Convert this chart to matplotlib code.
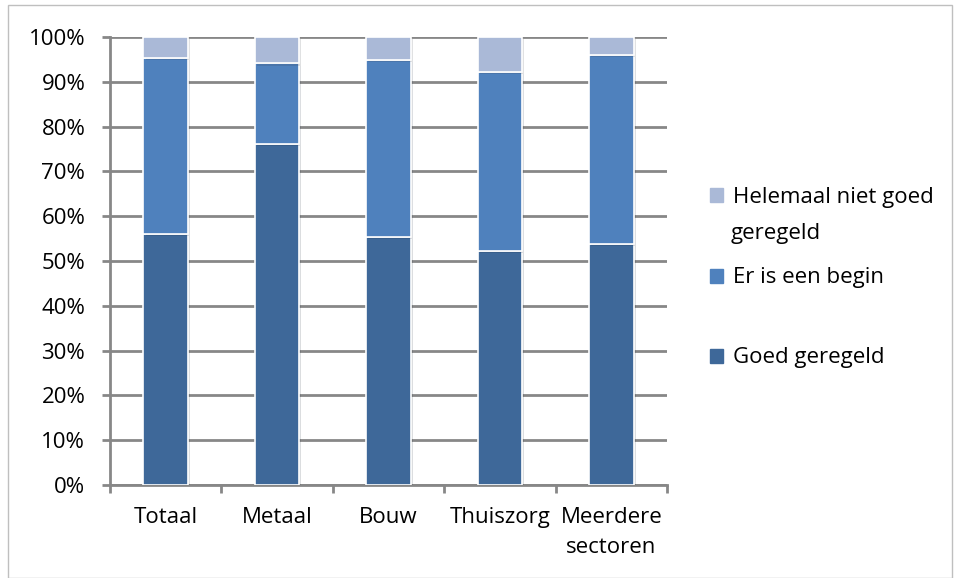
import numpy as np
import matplotlib
matplotlib.use("Agg")
import matplotlib.pyplot as plt
from matplotlib.patches import Patch, Rectangle
import matplotlib.patheffects as pe

categories = ["Totaal", "Metaal", "Bouw", "Thuiszorg", "Meerdere\nsectoren"]
goed = [56.0, 76.1, 55.4, 52.3, 53.9]
begin = [39.4, 18.0, 39.5, 39.8, 42.0]
helemaal = [4.6, 5.9, 5.1, 7.9, 4.1]

c_goed = "#3E6899"
c_begin = "#4F81BD"
c_hel = "#AAB9D7"
grid_c = "#878787"

plt.rcParams['font.family'] = ['Open Sans', 'DejaVu Sans']

fig = plt.figure(figsize=(9.57, 5.78), dpi=100)
ax = fig.add_axes([110/957, 1-485/578, 557/957, 448/578])

x = np.arange(len(categories))
w = 0.4
shadow = [pe.SimplePatchShadow(offset=(1.5, -1.5), alpha=0.15), pe.Normal()]
b1 = ax.bar(x, goed, w, color=c_goed, edgecolor="white", linewidth=1.2, zorder=3)
b2 = ax.bar(x, begin, w, bottom=goed, color=c_begin, edgecolor="white", linewidth=1.2, zorder=3)
b3 = ax.bar(x, helemaal, w, bottom=np.array(goed) + np.array(begin), color=c_hel,
            edgecolor="white", linewidth=1.2, zorder=3)
for bars in (b1, b2, b3):
    for r in bars:
        r.set_path_effects(shadow)

ax.set_xlim(-0.5, len(categories) - 0.5)
ax.set_ylim(0, 100)
ax.set_yticks(np.arange(0, 101, 10))
ax.set_yticklabels([f"{v}%" for v in range(0, 101, 10)], fontsize=16)
ax.yaxis.grid(True, color=grid_c, linewidth=2, zorder=0)
ax.tick_params(axis='y', length=5.8, width=2, color=grid_c, pad=12)

ax.set_xticks(np.arange(-0.5, len(categories), 1.0))
ax.set_xticklabels([])
ax.tick_params(axis='x', length=5.8, width=2, color=grid_c)
for i, c in enumerate(categories):
    ax.text(i, -5.0, c, ha='center', va='top', fontsize=16, linespacing=1.55)

for s in ['top', 'right']:
    ax.spines[s].set_visible(False)
for s in ['left', 'bottom']:
    ax.spines[s].set_color(grid_c)
    ax.spines[s].set_linewidth(2)

entries = [("Helemaal niet goed", c_hel, 197), ("Er is een begin", c_begin, 278),
           ("Goed geregeld", c_goed, 358)]
for lab, col, yy in entries:
    fig.legend(handles=[Patch(color=col)], labels=[lab], loc='center left',
               bbox_to_anchor=(699/957, 1-yy/578), frameon=False, fontsize=16,
               handlelength=0.6, handleheight=0.6, handletextpad=0.45, borderpad=0)
fig.text(731/957, 1-233/578, "geregeld", fontsize=16, va='center', ha='left')

fig.patches.append(Rectangle((8/957, 0), 944/957, 1-5/578, transform=fig.transFigure,
                             fill=False, edgecolor="#BFBFBF", linewidth=1))

fig.savefig("out.png", dpi=100)
